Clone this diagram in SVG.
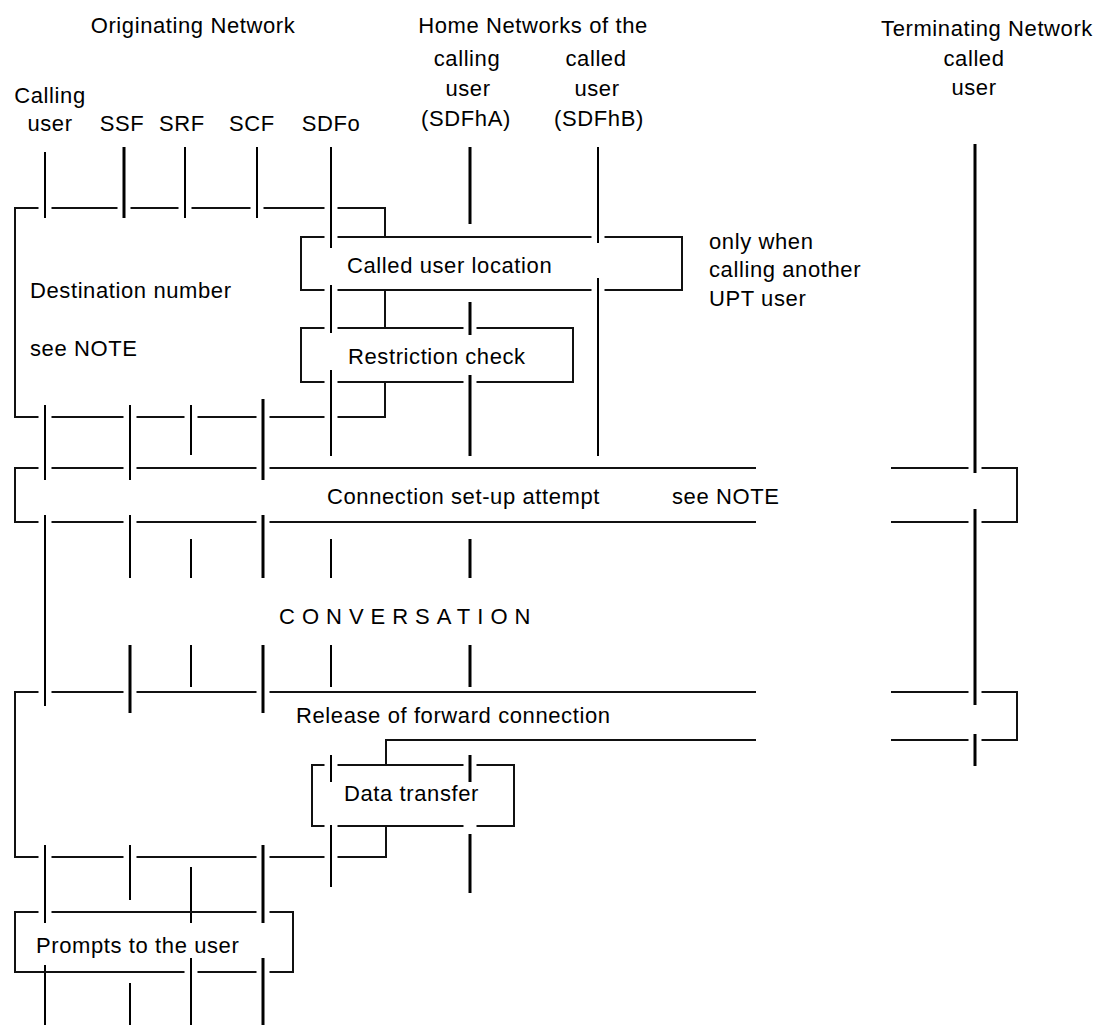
<svg xmlns="http://www.w3.org/2000/svg" width="1106" height="1025" viewBox="0 0 1106 1025">
<style>
text{font-family:"Liberation Sans",Arial,sans-serif;font-size:22px;letter-spacing:0.6px;fill:#000}
.c{text-anchor:middle}
.ll{stroke:#000;stroke-width:2;fill:none}
.tk{stroke-width:3}
.bx{stroke:#111;stroke-width:2;fill:none}
.sp{letter-spacing:7px}
</style>
<rect width="1106" height="1025" fill="#fff"/>
<g id="headers">
<text x="193" y="33" class="c">Originating Network</text>
<text x="533" y="33" class="c">Home Networks of the</text>
<text x="987" y="36" class="c">Terminating Network</text>
</g>
<g id="lifeline-calling-user">
<text x="50" y="103" class="c">Calling</text>
<text x="50" y="131" class="c">user</text>
<path class="ll" d="M45,152V218M45,405V480M45,515V706M45,845V923M45,965V1025"/>
</g>
<g id="lifeline-ssf">
<text x="122" y="131" class="c">SSF</text>
<path class="ll tk" d="M124,147V218M130,645V713"/>
<path class="ll" d="M130,405V480M130,515V578M130,845V900M130,983V1025"/>
</g>
<g id="lifeline-srf">
<text x="182" y="131" class="c">SRF</text>
<path class="ll" d="M185,147V218M191,405V455M191,539V578M191,645V687M191,867V923M191,958V1025"/>
</g>
<g id="lifeline-scf">
<text x="252" y="131" class="c">SCF</text>
<path class="ll" d="M257,147V218"/>
<path class="ll tk" d="M263,399V480M263,515V578M263,645V713M263,845V923M263,958V1025"/>
</g>
<g id="lifeline-sdfo">
<text x="331" y="131" class="c">SDFo</text>
<path class="ll" d="M331,147V248M331,285V333M331,370V456M331,539V578M331,645V687M331,755V782M331,825V887"/>
</g>
<g id="lifeline-sdfha">
<text x="467" y="66" class="c">calling</text>
<text x="468" y="96" class="c">user</text>
<text x="466" y="126" class="c">(SDFhA)</text>
<path class="ll tk" d="M470,147V224M470,302V335M470,375V456M470,539V578M470,645V687M470,755V782M470,834V893"/>
</g>
<g id="lifeline-sdfhb">
<text x="596" y="66" class="c">called</text>
<text x="597" y="96" class="c">user</text>
<text x="599" y="126" class="c">(SDFhB)</text>
<path class="ll" d="M598,147V243M598,278V456"/>
</g>
<g id="lifeline-called-user">
<text x="974" y="66" class="c">called</text>
<text x="974" y="95" class="c">user</text>
<path class="ll tk" d="M975,144V473M975,509V705M975,734V766"/>
</g>
<g id="box-destination-number">
<path class="bx" d="M38.5,208H15V417H38.5M51.5,208H117.5M130.5,208H178.5M191.5,208H250.5M263.5,208H324.5M337.5,208H385V237M51.5,417H123.5M136.5,417H184.5M197.5,417H256.5M269.5,417H324.5M337.5,417H385V382"/>
<text x="30" y="298">Destination number</text>
<text x="30" y="356">see NOTE</text>
</g>
<g id="box-called-user-location">
<path class="bx" d="M324.5,237H301V290H324.5M337.5,237H591.5M604.5,237H682V290H604.5M591.5,290H337.5"/>
<text x="347" y="273">Called user location</text>
</g>
<g id="note-upt">
<text x="709" y="249">only when</text>
<text x="709" y="277">calling another</text>
<text x="709" y="306">UPT user</text>
</g>
<g id="box-restriction-check">
<path class="bx" d="M324.5,328H301V382H324.5M337.5,328H463.5M476.5,328H573V382H476.5M463.5,382H337.5"/>
<text x="348" y="364">Restriction check</text>
</g>
<g id="box-connection-setup">
<path class="bx" d="M38.5,468H15V522H38.5M51.5,468H123.5M136.5,468H256.5M269.5,468H756M51.5,522H123.5M136.5,522H256.5M269.5,522H756"/>
<path class="bx" d="M891,468H968.5M981.5,468H1017V522H981.5M968.5,522H891"/>
<text x="327" y="504">Connection set-up attempt</text>
<text x="672" y="504">see NOTE</text>
</g>
<g id="conversation">
<text x="279" y="624" class="sp">CONVERSATION</text>
</g>
<g id="box-release">
<path class="bx" d="M38.5,692H15V857H38.5M51.5,692H123.5M136.5,692H256.5M269.5,692H756"/>
<path class="bx" d="M891,692H968.5M981.5,692H1017V740H981.5M968.5,740H891"/>
<text x="296" y="723">Release of forward connection</text>
</g>
<g id="box-data-transfer">
<path class="bx" d="M324.5,765H312V826H324.5M337.5,765H463.5M476.5,765H514V826H476.5M463.5,826H337.5"/>
<text x="344" y="801">Data transfer</text>
</g>
<g id="box-prompts">
<path class="bx" d="M38.5,912H15V972H184.5M197.5,972H256.5M269.5,972H293V912H269.5M256.5,912H51.5"/>
<text x="36" y="953">Prompts to the user</text>
</g>
<g id="connectors">
<path class="bx" d="M385,290V328"/>
<path class="bx" d="M756,740H386V765"/>
<path class="bx" d="M386,826V857H337.5M324.5,857H269.5M256.5,857H136.5M123.5,857H51.5"/>
</g>
</svg>
